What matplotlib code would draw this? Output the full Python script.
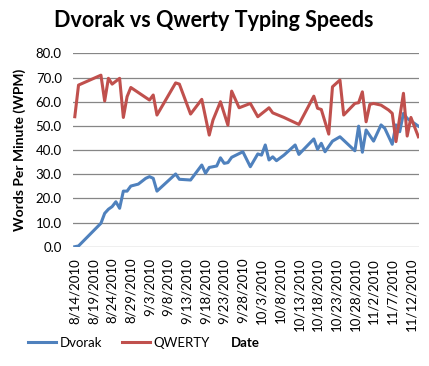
import matplotlib
matplotlib.use("Agg")
import matplotlib.pyplot as plt
import matplotlib.dates as mdates
import pandas as pd

# typing speed log
dvorak_dates = ["8/14", "8/15", "8/21", "8/22", "8/23", "8/24", "8/25", "8/26", "8/27",
                "8/28", "8/29", "8/31", "9/2", "9/3", "9/4", "9/5", "9/10", "9/11",
                "9/14", "9/17", "9/18", "9/19", "9/21", "9/22", "9/23", "9/24", "9/25",
                "9/28", "9/30", "10/2", "10/3", "10/4", "10/5", "10/6", "10/7", "10/9",
                "10/12", "10/13", "10/17", "10/18", "10/19", "10/20", "10/22", "10/24",
                "10/28", "10/29", "10/30", "10/31", "11/2", "11/4", "11/5", "11/7",
                "11/8", "11/9", "11/10", "11/11", "11/14"]
dvorak_wpm = [0.0, 0.3, 9.7, 13.8, 15.5, 16.6, 18.6, 15.9, 23.0,
              23.0, 25.1, 25.9, 28.3, 29.0, 28.3, 23.0, 30.1, 27.9,
              27.6, 33.8, 30.4, 32.8, 33.4, 36.8, 34.5, 34.8, 37.0,
              39.3, 33.1, 38.4, 37.9, 42.1, 35.9, 37.2, 35.6, 37.9,
              42.1, 38.2, 44.6, 40.3, 42.8, 39.3, 43.7, 45.5,
              39.7, 49.9, 39.1, 48.3, 43.7, 50.4, 49.0, 42.4,
              50.4, 47.6, 55.2, 53.1, 49.9]

qwerty_dates = ["8/14", "8/15", "8/21", "8/22", "8/23", "8/24", "8/26", "8/27", "8/28",
                "8/29", "9/3", "9/4", "9/5", "9/10", "9/11", "9/14", "9/17", "9/19",
                "9/20", "9/22", "9/24", "9/25", "9/27", "9/30", "10/2", "10/5", "10/6",
                "10/9", "10/13", "10/17", "10/18", "10/19", "10/21", "10/22", "10/24",
                "10/25", "10/28", "10/29", "10/30", "10/31", "11/1", "11/2", "11/4",
                "11/6", "11/7", "11/8", "11/10", "11/11", "11/12", "11/14"]
qwerty_wpm = [53.8, 66.9, 71.0, 60.3, 69.7, 67.3, 69.7, 53.5, 62.1,
              65.9, 60.7, 62.8, 54.5, 67.8, 67.3, 54.9, 61.0, 46.2,
              52.4, 60.0, 50.3, 64.4, 57.5, 59.3, 53.8, 57.5, 55.4,
              53.5, 50.6, 62.3, 57.3, 56.8, 46.6, 66.2, 69.0,
              54.5, 59.3, 59.6, 64.1, 51.7, 58.9, 59.3, 58.6,
              56.6, 55.2, 43.5, 63.5, 45.8, 53.5, 45.5]

tick_labels = ["8/14/2010", "8/19/2010", "8/24/2010", "8/29/2010", "9/3/2010",
               "9/8/2010", "9/13/2010", "9/18/2010", "9/23/2010", "9/28/2010",
               "10/3/2010", "10/8/2010", "10/13/2010", "10/18/2010", "10/23/2010",
               "10/28/2010", "11/2/2010", "11/7/2010", "11/12/2010"]


def to_dates(days):
    return pd.to_datetime([d + "/2010" for d in days], format="%m/%d/%Y")


plt.rcParams["font.family"] = ["Lato", "DejaVu Sans"]

fig = plt.figure(figsize=(4.29, 3.66), dpi=100)
ax = fig.add_axes([0.170, 0.326, 0.807, 0.528])

ax.plot(to_dates(dvorak_dates), dvorak_wpm, color="#4F81BD", lw=2.2, label="Dvorak")
ax.plot(to_dates(qwerty_dates), qwerty_wpm, color="#C0504D", lw=2.2, label="QWERTY")

ticks = pd.to_datetime(tick_labels, format="%m/%d/%Y")
ax.set_xticks(ticks)
ax.set_xticklabels(tick_labels, rotation=90, fontsize=9.5)
start = mdates.date2num(ticks[0])
ax.set_xlim(start - 0.5, start + 92.2)

ax.set_ylim(0, 80)
ax.set_yticks(range(0, 81, 10))
ax.set_yticklabels(["%.1f" % v for v in range(0, 81, 10)], fontsize=9.5)
ax.grid(axis="y", color="#868686", lw=0.9)
ax.set_axisbelow(True)
ax.tick_params(length=0, pad=8)
for s in ax.spines.values():
    s.set_visible(False)

fig.text(0.499, 0.943, "Dvorak vs Qwerty Typing Speeds", ha="center", va="center",
         fontsize=15.5, fontweight="bold")
fig.text(0.047, 0.59, "Words Per Minute (WPM)", rotation=90, ha="center", va="center",
         fontsize=10, fontweight="bold")
fig.text(0.571, 0.063, "Date", ha="center", va="center", fontsize=9.5, fontweight="bold")

fig.legend(loc="center left", bbox_to_anchor=(0.038, 0.063), ncol=2, frameon=False,
           fontsize=9.5, handlelength=2.1, handletextpad=0.3, columnspacing=1.5)

fig.savefig("out.png", dpi=100)
